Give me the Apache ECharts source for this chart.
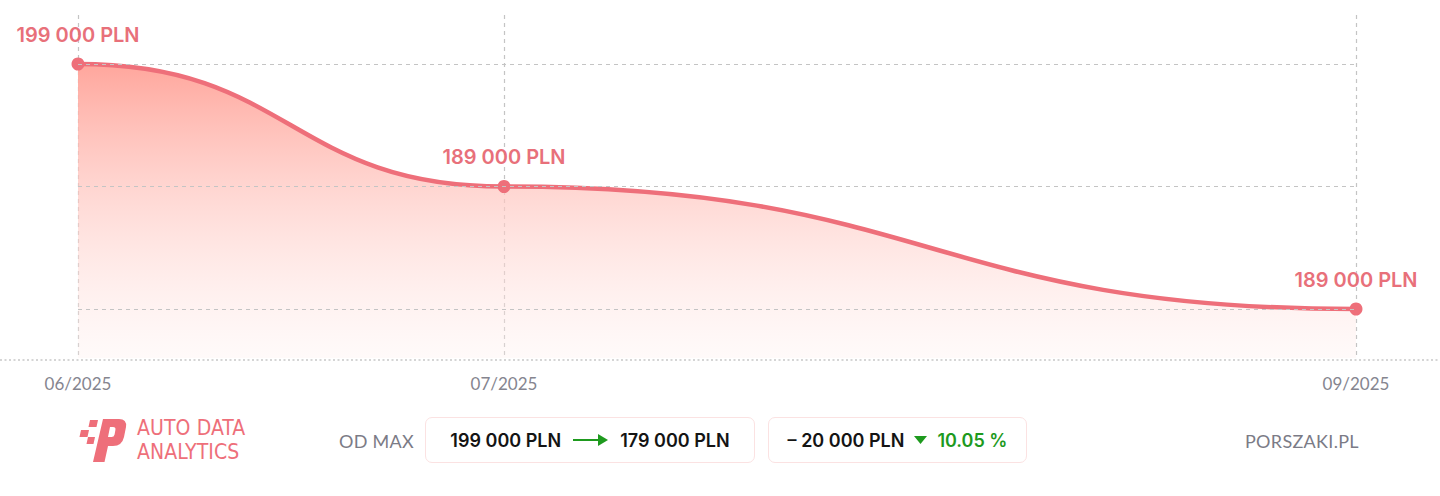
<!DOCTYPE html>
<html>
<head>
<meta charset="utf-8">
<script src="https://cdn.jsdelivr.net/npm/echarts@6/dist/echarts.min.js"></script>
<style>
  html, body { margin: 0; padding: 0; background: #fff; }
  #wrap { position: relative; width: 1440px; height: 496px; overflow: hidden; font-family: Inter, "Noto Sans", sans-serif; }
  #chart { position: absolute; left: 0; top: 0; width: 1440px; height: 400px; }
  .abs { position: absolute; white-space: nowrap; }
  .brand { color: #ee6f7a; font-family: "Liberation Sans Narrow", "DejaVu Sans Condensed", sans-serif; font-size: 21px; line-height: 24px; letter-spacing: 0.1px; }
  .grey { color: #7b7b86; font-size: 18px; line-height: 20px; font-family: Lato, "Noto Sans", sans-serif; letter-spacing: 0.3px; }
  .box { position: absolute; top: 417px; height: 44px; border: 1px solid #fbe2e2; border-radius: 7px; display: flex; align-items: center; justify-content: center; font-weight: 600; font-size: 18px; color: #141414; box-sizing: content-box; }
  .green { color: #1e9a1e; }
</style>
</head>
<body>
<div id="wrap">
  <div id="chart"></div>
  <svg class="abs" style="left:76px;top:417px" width="52" height="46" viewBox="0 0 52 46">
    <g fill="#ee6f7a">
      <path d="M14 3 H22 L20.5 10 H12.5 Z"/>
      <path d="M5 13 H13 L11.5 20 H3.5 Z"/>
      <path d="M12 20 H19 L17.5 27 H10.5 Z"/>
      <path fill-rule="evenodd" d="M27 2 H43 Q51 2 50 10 L48 20 Q46 29 37 29 H32 L28.5 45 H17 Z M34 10 L32 20 H35.5 Q38 20 38.6 17.5 L39.4 13 Q40 10 37 10 Z"/>
    </g>
  </svg>
  <div class="abs brand" style="left:137px;top:416px">AUTO DATA</div>
  <div class="abs brand" style="left:137px;top:440px">ANALYTICS</div>
  <div class="abs grey" style="left:339px;top:431px">OD MAX</div>
  <div class="box" style="left:425px;width:328px;">
    <span id="fromTxt"></span>
    <svg width="36" height="12" viewBox="0 0 36 12" style="margin:0 11px 0 12px"><line x1="0" y1="6" x2="26" y2="6" stroke="#1e9a1e" stroke-width="2"/><path d="M25 0 L35 6 L25 12 Z" fill="#1e9a1e"/></svg>
    <span id="toTxt"></span>
  </div>
  <div class="box" style="left:768px;width:257px;">
    <span id="diffTxt"></span>
    <svg width="14" height="10" viewBox="0 0 14 10" style="margin:0 9px 0 10px"><path d="M0 1 H13 L6.5 9 Z" fill="#1e9a1e"/></svg>
    <span class="green" id="pctTxt"></span>
  </div>
  <div class="abs grey" style="left:1245px;top:431px">PORSZAKI.PL</div>
</div>
<script>
// ---- data ----
const categories = ['06/2025', '07/2025', '08/2025', '09/2025'];
const prices = [199000, 189000, null, 179000];
const pointLabels = ['199 000 PLN', '189 000 PLN', '', '189 000 PLN'];
const shownTicks = [0, 1, 3];
const refLines = [199000, 189000, 179000];
const summary = { from: '199 000 PLN', to: '179 000 PLN', diff: '– 20 000 PLN', pct: '10.05 %' };

document.getElementById('fromTxt').textContent = summary.from;
document.getElementById('toTxt').textContent = summary.to;
document.getElementById('diffTxt').textContent = summary.diff;
document.getElementById('pctTxt').textContent = summary.pct;

const chart = echarts.init(document.getElementById('chart'), null, { renderer: 'svg' });
const lineColor = '#ee6f7a';

// curve with flat tangents at each point, drawn through the axis scales
function renderCurve(params, api) {
  if (params.dataIndex !== 0) return null;
  const cs = params.coordSys;
  const bottom = cs.y + cs.height;
  const pts = [];
  prices.forEach((v, i) => { if (v !== null) pts.push(api.coord([i, v])); });
  let line = 'M' + pts[0][0] + ' ' + pts[0][1];
  for (let k = 1; k < pts.length; k++) {
    const a = pts[k - 1], b = pts[k];
    const mx = (a[0] + b[0]) / 2;
    line += ' C' + mx + ' ' + a[1] + ' ' + mx + ' ' + b[1] + ' ' + b[0] + ' ' + b[1];
  }
  const last = pts[pts.length - 1];
  const area = line + ' L' + last[0] + ' ' + bottom + ' L' + pts[0][0] + ' ' + bottom + ' Z';
  const topY = Math.min.apply(null, pts.map(p => p[1]));
  return {
    type: 'group',
    children: [{
      type: 'path',
      shape: { pathData: area },
      style: {
        fill: new echarts.graphic.LinearGradient(0, topY, 0, bottom, [
          { offset: 0, color: 'rgba(255,166,156,1)' },
          { offset: 1, color: 'rgba(255,238,236,0.3)' }
        ], true),
        stroke: null
      }
    }, {
      type: 'path',
      shape: { pathData: line },
      style: { fill: null, stroke: lineColor, lineWidth: 4.5 }
    }]
  };
}

chart.setOption({
  animation: false,
  grid: { left: 78, right: 84, top: 15, bottom: 42 },
  xAxis: {
    type: 'category',
    data: categories,
    boundaryGap: false,
    axisLine: { show: false },
    axisTick: { show: false },
    axisLabel: {
      interval: (i) => shownTicks.includes(i),
      color: '#85858f',
      fontSize: 17,
      fontFamily: 'Lato, "Noto Sans", sans-serif',
      margin: 17
    },
    splitLine: {
      show: true,
      interval: (i) => shownTicks.includes(i),
      lineStyle: { color: '#c4c4c4', type: [4, 4], width: 1.2 }
    }
  },
  yAxis: {
    type: 'value',
    min: 175000,
    max: 203000,
    show: false,
    splitLine: { show: false }
  },
  graphic: [{
    type: 'line',
    shape: { x1: 0, y1: 360, x2: 1440, y2: 360 },
    style: { stroke: '#c8c8c8', lineWidth: 1.5, lineDash: [2, 2.5] },
    silent: true
  }],
  series: [{
    type: 'custom',
    renderItem: renderCurve,
    data: prices.map((v, i) => [i, v]),
    z: 2,
    silent: true
  }, {
    type: 'line',
    data: prices,
    connectNulls: true,
    symbol: 'circle',
    symbolSize: 13,
    lineStyle: { width: 0, opacity: 0 },
    itemStyle: { color: lineColor },
    label: {
      show: true,
      position: 'top',
      distance: 13,
      formatter: (p) => pointLabels[p.dataIndex],
      color: '#e8707a',
      fontSize: 20,
      fontWeight: 600,
      fontFamily: 'Inter, "Noto Sans", sans-serif'
    },
    markLine: {
      silent: true,
      symbol: 'none',
      label: { show: false },
      lineStyle: { color: '#c4c4c4', type: [4, 4], width: 1.2 },
      data: refLines.map(v => ({ yAxis: v }))
    },
    z: 3
  }]
});
</script>
</body>
</html>
